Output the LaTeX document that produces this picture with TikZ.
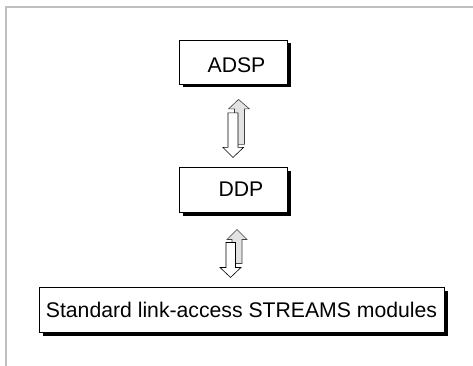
\documentclass[tikz,border=0pt]{standalone}
\usepackage{fontspec}
\setmainfont{Liberation Sans}
\usetikzlibrary{shadows}
\begin{document}
\begin{tikzpicture}[x=1pt,y=-1pt,
  layerbox/.style={draw=black, line width=0.9pt, fill=white, rectangle, inner sep=0pt,
    font=\fontsize{21.2}{25}\selectfont,
    drop shadow={shadow xshift=3.5pt, shadow yshift=-3.5pt, fill=black, opacity=1}},
  uparrow/.style={fill=gray!22, draw=black!75, line width=0.6pt, line join=miter},
  downarrow/.style={fill=white, draw=black, line width=0.6pt, line join=miter},
  frameline/.style={draw=gray!50, line width=1.8pt}]
\useasboundingbox (0,0) rectangle (473,366);
\draw[frameline] (5.75,366) -- (5.75,6.75) -- (473,6.75);

\node[layerbox, minimum width=108pt, minimum height=44pt, text height=20.2pt, text depth=0pt]
  (adsp) at (233,62) {\hspace*{7pt}ADSP};
\node[layerbox, minimum width=108pt, minimum height=45pt, text height=13.2pt, text depth=0pt]
  (ddp) at (233,189.5) {\hspace*{16pt}DDP};
\node[layerbox, minimum width=405pt, minimum height=45pt, text height=15.2pt, text depth=0pt]
  (link) at (241.5,309.5) {Standard link-access STREAMS modules};

% arrows between ADSP and DDP
\begin{scope}[shift={(adsp.south)}]
  \draw[uparrow] (1.5,60) -- (1.5,24.5) -- (-4.5,24.5) -- (5.5,15) -- (16.5,24.5)
    -- (11.5,24.5) -- (11.5,60) -- cycle;
  \draw[downarrow] (-5,28.5) -- (5,28.5) -- (5,63) -- (10.5,63) -- (0,73)
    -- (-10,63) -- (-5,63) -- cycle;
\end{scope}

% arrows between DDP and link-access modules
\begin{scope}[shift={(ddp.south)}]
  \draw[uparrow] (-1,51) -- (-1,27) -- (-6,27) -- (4,17) -- (14,27)
    -- (9,27) -- (9,51) -- cycle;
  \draw[downarrow] (-7,30) -- (2.5,30) -- (2.5,55) -- (8,55) -- (-2.5,65)
    -- (-13,55) -- (-7,55) -- cycle;
\end{scope}
\end{tikzpicture}
\end{document}
